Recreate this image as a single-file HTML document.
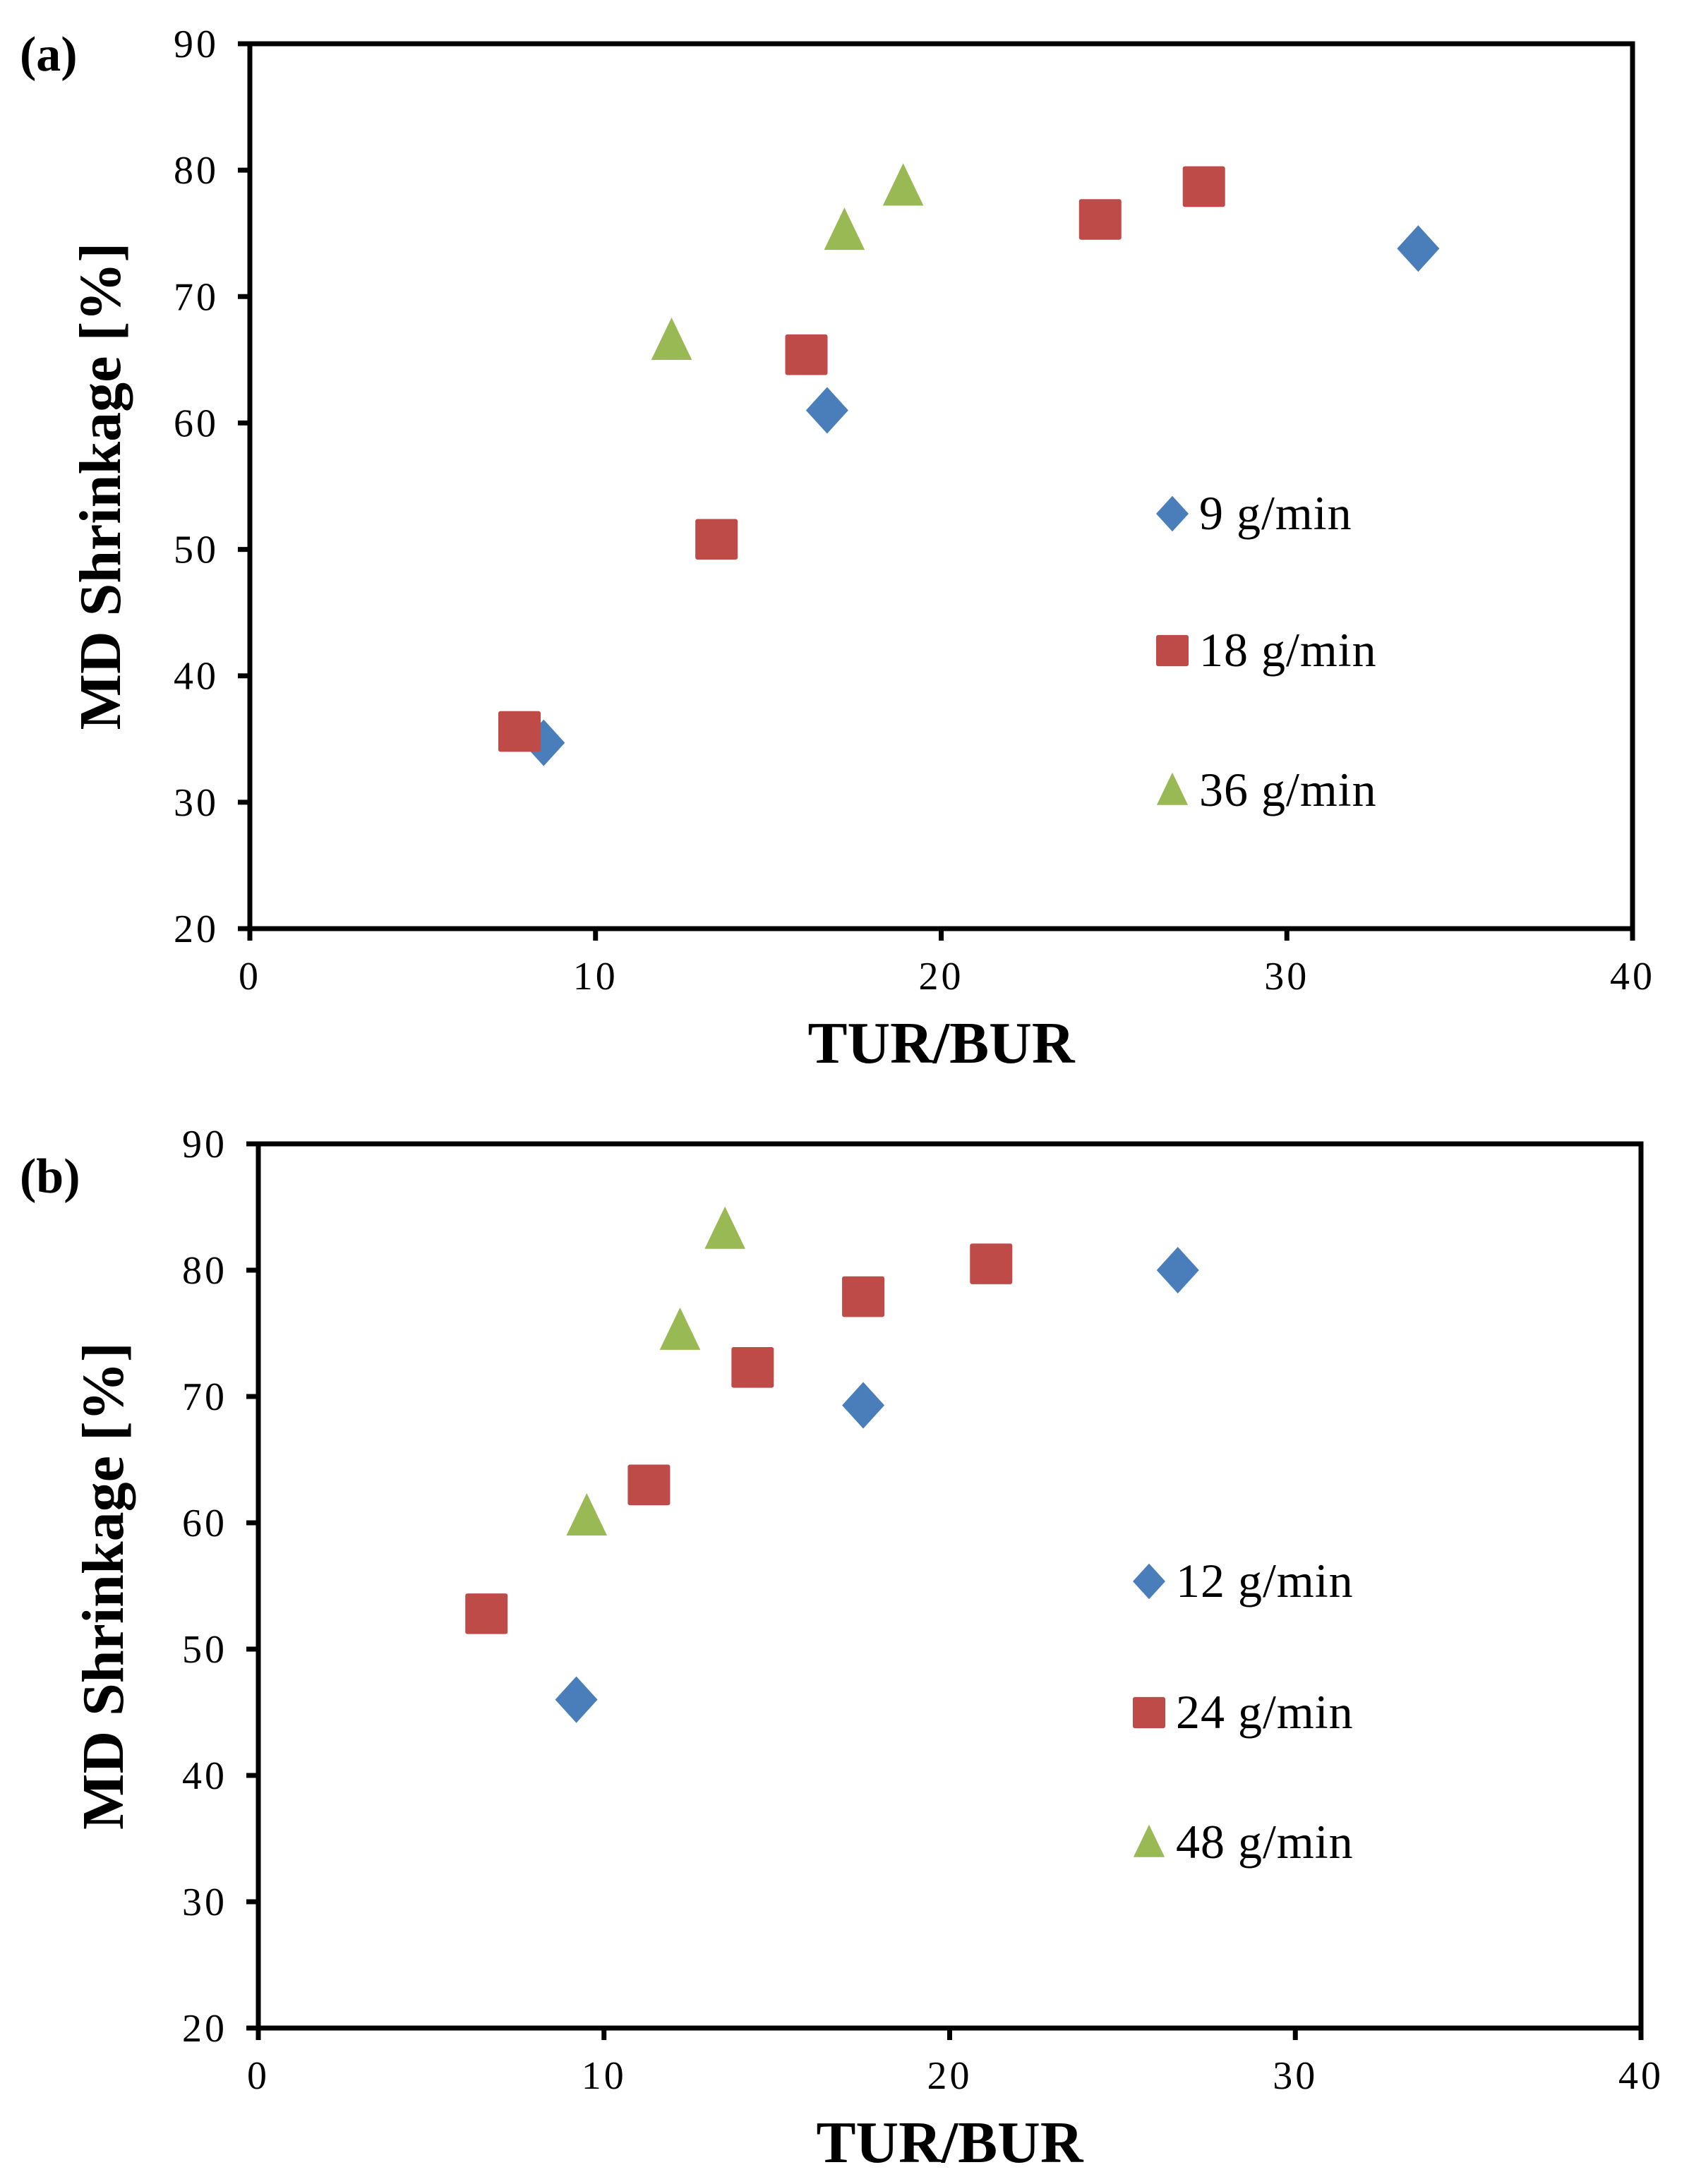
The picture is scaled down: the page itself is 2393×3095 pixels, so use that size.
<!DOCTYPE html>
<html><head><meta charset="utf-8"><style>
html,body{margin:0;padding:0;background:#fff;}
svg{display:block;}
svg text{font-family:"Liberation Serif","Times New Roman",serif;}
</style></head><body>
<svg id="s" width="2393" height="3095" viewBox="0 0 2393 3095" xmlns="http://www.w3.org/2000/svg" font-family="Liberation Serif, serif"></svg>
<script>
const xTicks=[0,10,20,30,40];
const yTicks=[20,30,40,50,60,70,80,90];
// Panel a
const a9x=[8.5,16.7,33.8], a9y=[34.7,61,73.8];
const a18x=[7.8,13.5,16.1,24.6,27.6], a18y=[35.6,50.8,65.4,76.1,78.7];
const a36x=[12.2,17.2,18.9], a36y=[66.5,75.2,78.7];
// Panel b
const b12x=[9.2,17.5,26.6], b12y=[46,69.3,80];
const b24x=[6.6,11.3,14.3,17.5,21.2], b24y=[52.8,63,72.3,77.9,80.5];
const b48x=[9.5,12.2,13.5], b48y=[60.5,75.2,83.2];
const legendA=["9 g/min","18 g/min","36 g/min"];
const legendB=["12 g/min","24 g/min","48 g/min"];

const NS="http://www.w3.org/2000/svg";
const svg=document.getElementById('s');
function mk(tag,attrs,parent,txt){const e=document.createElementNS(NS,tag);for(const k in attrs)e.setAttribute(k,attrs[k]);if(txt!==undefined){e.textContent=txt;e.setAttribute('font-family','Liberation Serif, serif');}(parent||svg).appendChild(e);return e;}
const BLUE="#4a7ebb",RED="#be4b48",GREEN="#98b954";
function marker(g,type,cx,cy,s){
  let e;
  if(type==='d'){e=mk('polygon',{points:`${cx},${cy-s*0.55} ${cx+s*0.5},${cy} ${cx},${cy+s*0.55} ${cx-s*0.5},${cy}`,fill:BLUE},g);}
  else if(type==='s'){e=mk('rect',{x:cx-s*0.5,y:cy-s*0.48,width:s,height:s*0.96,rx:3,fill:RED},g);}
  else {e=mk('polygon',{points:`${cx},${cy-s*0.55} ${cx+s*0.48},${cy+s*0.45} ${cx-s*0.48},${cy+s*0.45}`,fill:GREEN},g);}
  return e;
}
function panel(name,L,T,R,B,label,labelY,series,legend,legX,legY,titleX){
  const g=mk('g',{});
  
  
  const xs=v=>L+(v-0)/40*(R-L);
  const ys=v=>B-(v-20)/70*(B-T);
  const frame=mk('rect',{x:L,y:T,width:R-L,height:B-T,fill:'none',stroke:'#000','stroke-width':7},g);
  
  
  xTicks.forEach(v=>{
    const t=mk('line',{x1:xs(v),x2:xs(v),y1:B,y2:B+17,stroke:'#000','stroke-width':7},g);
    
    
    const l=mk('text',{x:xs(v),y:B+86,'font-size':56,'text-anchor':'middle','letter-spacing':4},g,String(v));
    
    
  });
  yTicks.forEach(v=>{
    const t=mk('line',{x1:L-17,x2:L,y1:ys(v),y2:ys(v),stroke:'#000','stroke-width':7},g);
    
    
    const l=mk('text',{x:L-44,y:ys(v)+19,'font-size':56,'text-anchor':'end','letter-spacing':4},g,String(v));
    
    
  });
  const xt=mk('text',{x:(L+R)/2,y:B+190,'font-size':84,'font-weight':'bold','text-anchor':'middle'},g,'TUR/BUR');
  
  
  const yt=mk('text',{x:0,y:0,'font-size':84,'font-weight':'bold','text-anchor':'middle',transform:`translate(${titleX},${(T+B)/2}) rotate(-90)`},g,'MD Shrinkage [%]');
  
  
  const pl=mk('text',{x:28,y:labelY,'font-size':70,'font-weight':'bold'},g,label);
  
  
  series.forEach((se,si)=>{
    se.x.forEach((xv,i)=>{
      const m=marker(g,se.t,xs(xv),ys(se.y[i]),60);
      
      
    });
    const lm=marker(g,se.t,legX,legY[si],46);
    
    
    const lt=mk('text',{x:legX+38,y:legY[si]+22,'font-size':68,'letter-spacing':1},g,legend[si]);
    
    
  });
}
panel('chart-a',354,62,2313,1316,'(a)',100,
  [{t:'d',x:a9x,y:a9y,n:'9'},{t:'s',x:a18x,y:a18y,n:'18'},{t:'t',x:a36x,y:a36y,n:'36'}],
  legendA,1661,[728,922,1120],170);
panel('chart-b',366,1621,2325,2874,'(b)',1690,
  [{t:'d',x:b12x,y:b12y,n:'12'},{t:'s',x:b24x,y:b24y,n:'24'},{t:'t',x:b48x,y:b48y,n:'48'}],
  legendB,1628,[2241,2427,2611],174);
</script>
</body></html>
